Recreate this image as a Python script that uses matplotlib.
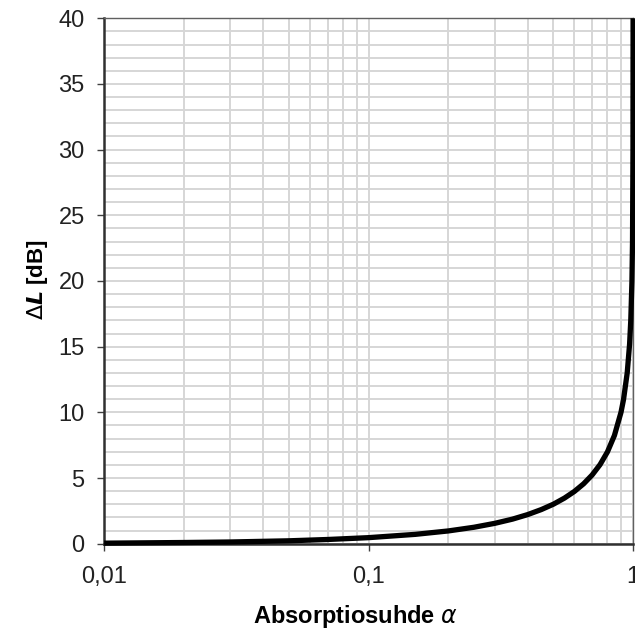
import numpy as np
import matplotlib.pyplot as plt
from matplotlib.ticker import FixedLocator, MultipleLocator, NullFormatter

plt.rcParams["font.family"] = ["Liberation Sans", "DejaVu Sans"]

# values
alpha = [0.01, 0.02, 0.03, 0.05, 0.07, 0.1, 0.15, 0.2, 0.25, 0.3, 0.35, 0.4,
         0.45, 0.5, 0.55, 0.6, 0.65, 0.7, 0.75, 0.8, 0.85, 0.9, 0.92, 0.95,
         0.97, 0.98, 0.99, 0.995, 0.999, 0.9999]
delta_l = [0.04, 0.09, 0.13, 0.22, 0.32, 0.46, 0.71, 0.97, 1.25, 1.55, 1.87,
           2.22, 2.60, 3.01, 3.47, 3.98, 4.56, 5.23, 6.02, 6.99, 8.24, 10.0,
           10.97, 13.0, 15.2, 17.0, 20.0, 23.0, 30.0, 40.0]

x_ticks = [0.01, 0.1, 1]
x_labels = ["0,01", "0,1", "1"]
y_ticks = [0, 5, 10, 15, 20, 25, 30, 35, 40]

fig = plt.figure(figsize=(6.35, 6.3), dpi=100)
ax = fig.add_axes([0.164, 0.137, 0.833, 0.834])

ax.plot(alpha, delta_l, color="black", lw=3.8, solid_capstyle="butt",
        solid_joinstyle="round", zorder=3, clip_on=False)

ax.set_xscale("log")
ax.set_xlim(0.01, 1)
ax.set_ylim(0, 40)

ax.xaxis.set_major_locator(FixedLocator(x_ticks))
ax.set_xticklabels(x_labels)
ax.xaxis.set_minor_locator(FixedLocator(
    [m * d for d in (0.01, 0.1) for m in range(2, 10)]))
ax.xaxis.set_minor_formatter(NullFormatter())
ax.yaxis.set_major_locator(FixedLocator(y_ticks))
ax.yaxis.set_minor_locator(MultipleLocator(1))

ax.grid(True, which="both", color="#d6d6d6", lw=1.4, zorder=0)
ax.set_axisbelow(True)

ax.tick_params(axis="both", which="major", direction="out", length=5,
               width=1, color="#404040", labelsize=17, labelcolor="#222222", pad=11)
ax.tick_params(axis="y", which="major", pad=9)
ax.tick_params(axis="both", which="minor", length=0)

for side in ("left", "bottom"):
    ax.spines[side].set_linewidth(1.8)
    ax.spines[side].set_color("#303030")
for side in ("top", "right"):
    ax.spines[side].set_linewidth(1.0)
    ax.spines[side].set_color("#606060")

# axis titles placed in figure coordinates
fig.text(38 / 635, 1 - 280 / 630, r"$\Delta\mathbfit{L}$ [dB]", fontsize=16,
         fontweight="bold", rotation=90, ha="center", va="center")
fig.text(355 / 635, 1 - 617 / 630, r"Absorptiosuhde $\alpha$", fontsize=17,
         fontweight="bold", ha="center", va="center")

fig.savefig("out.png", dpi=100)
